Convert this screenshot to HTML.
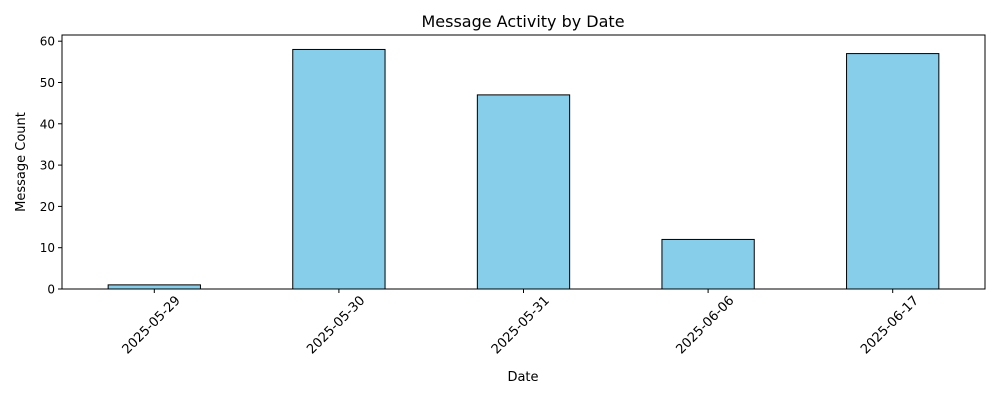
<!DOCTYPE html>
<html><head><meta charset="utf-8"><style>
body{margin:0;background:#fff}
svg{display:block;font-family:"DejaVu Sans","Liberation Sans",sans-serif}
</style></head><body>
<svg id="chart" width="1000" height="400" xmlns="http://www.w3.org/2000/svg">
<rect width="1000" height="400" fill="#fff"/>
<text x="523" y="27" text-anchor="middle" font-size="16">Message Activity by Date</text>
<g id="plot"></g>
<text x="523" y="381" text-anchor="middle" font-size="13">Date</text>
<text transform="translate(25,162) rotate(-90)" text-anchor="middle" font-size="13">Message Count</text>
</svg>
<script>
const categories=["2025-05-29","2025-05-30","2025-05-31","2025-06-06","2025-06-17"];
const counts=[1,58,47,12,57];
const yTicks=[0,10,20,30,40,50,60];
const L=62,R=985,T=35,B=289;
const yMax=61.5;
function y(v){return B-(v/yMax)*(B-T);}
const step=(R-L)/categories.length;
function xc(i){return L+step*(i+0.5);}
const ns="http://www.w3.org/2000/svg";
const g=document.getElementById('plot');
function mk(tag,attrs){const e=document.createElementNS(ns,tag);for(const k in attrs)e.setAttribute(k,attrs[k]);g.appendChild(e);return e;}
categories.forEach((c,i)=>{
  const bw=step*0.5;
  const r=mk('rect',{x:xc(i)-bw/2,y:y(counts[i]),width:bw,height:B-y(counts[i]),fill:'#87ceeb',stroke:'#000','stroke-width':1});
  
  
  const t=mk('line',{x1:xc(i),x2:xc(i),y1:B,y2:B+4,stroke:'#000'});
  
  
  const lb=mk('text',{transform:`translate(${xc(i)-3},${B+36}) rotate(-45)`,'text-anchor':'middle',dy:'4','font-size':13});
  lb.textContent=c;
  
  
});
yTicks.forEach(v=>{
  const t=mk('line',{x1:L-4,x2:L,y1:y(v),y2:y(v),stroke:'#000'});
  
  
  const lb=mk('text',{x:L-7,y:y(v)+4.5,'text-anchor':'end','font-size':12});
  lb.textContent=v;
  
  
});
const frame=mk('rect',{x:L,y:T,width:R-L,height:B-T,fill:'none',stroke:'#000','stroke-width':1});


</script>
</body></html>
